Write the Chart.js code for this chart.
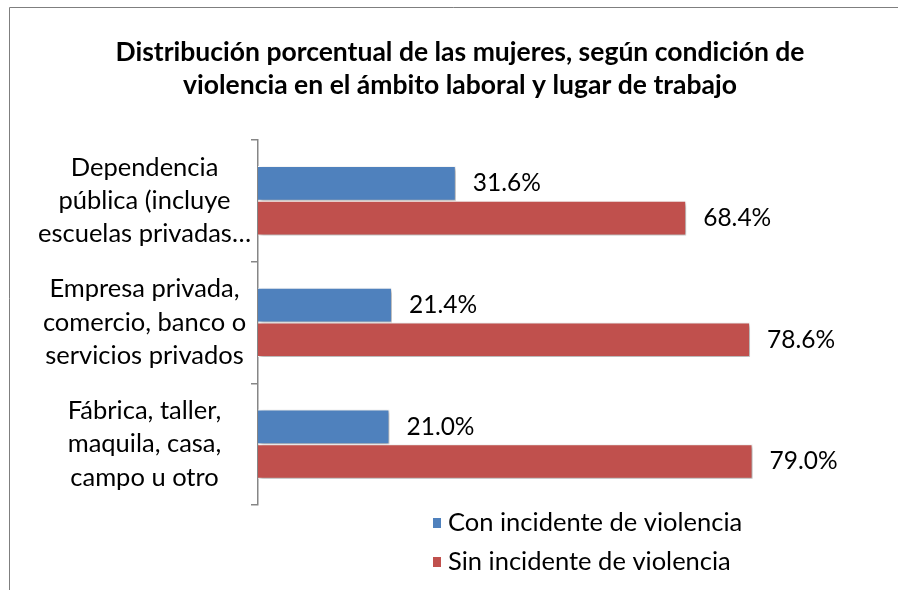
<!DOCTYPE html>
<html>
<head>
<meta charset="utf-8">
<script src="https://cdn.jsdelivr.net/npm/chart.js@4.4.1/dist/chart.umd.min.js"></script>
<style>
html,body{margin:0;padding:0;background:#fff;overflow:hidden}
canvas{display:block}
</style>
</head>
<body>
<canvas id="chart" width="898" height="590"></canvas>
<script>
// DATA
let categories = [
  ["Dependencia", "pública (incluye", "escuelas privadas…"],
  ["Empresa privada,", "comercio, banco o", "servicios privados"],
  ["Fábrica, taller,", "maquila, casa,", "campo u otro"]
];
let seriesNames = ["Con incidente de violencia", "Sin incidente de violencia"];
let conValues = [31.6, 21.4, 21.0];
let sinValues = [68.4, 78.6, 79.0];
let seriesColors = ["#4F81BD", "#C0504D"];

let titleLines = [
  "Distribución porcentual de las mujeres, según condición de",
  "violencia en el ámbito laboral y lugar de trabajo"
];

const FONT = "Lato";

// CHART FRAME (only top and left edges are inside the picture)
let frame = {
  id: "frame",
  beforeDraw(chart){
    let ctx = chart.ctx;
    ctx.save();
    ctx.strokeStyle = "#7f7f7f";
    ctx.lineWidth = 1;
    ctx.beginPath();
    ctx.moveTo(9.5, chart.height);
    ctx.lineTo(9.5, 7.5);
    ctx.lineTo(chart.width, 7.5);
    ctx.stroke();
    ctx.restore();
  }
};

// SHADOW UNDER BARS
let barShadow = {
  id: "barShadow",
  beforeDatasetsDraw(chart){
    let ctx = chart.ctx;
    ctx.save();
    ctx.shadowColor = "rgba(0,0,0,0.35)";
    ctx.shadowBlur = 4;
    ctx.shadowOffsetX = 2;
    ctx.shadowOffsetY = 2;
  },
  afterDatasetsDraw(chart){
    chart.ctx.restore();
  }
};

// VALUE LABELS
let valueLabels = {
  id: "valueLabels",
  afterDatasetsDraw(chart){
    let ctx = chart.ctx;
    ctx.save();
    ctx.font = "24.5px " + FONT;
    ctx.fillStyle = "#000";
    ctx.textBaseline = "middle";
    ctx.textAlign = "left";
    chart.data.datasets.forEach((ds, i) => {
      chart.getDatasetMeta(i).data.forEach((bar, j) => {
        ctx.fillText(ds.data[j].toFixed(1) + "%", bar.x + 17, bar.y);
      });
    });
    ctx.restore();
  }
};

// LEGEND (vertical, under the plot)
let sideLegend = {
  id: "sideLegend",
  afterDraw(chart){
    let ctx = chart.ctx;
    ctx.save();
    ctx.font = "25.5px " + FONT;
    ctx.textBaseline = "middle";
    ctx.textAlign = "left";
    chart.data.datasets.forEach((ds, i) => {
      let y = 523 + i * 39;
      ctx.fillStyle = ds.backgroundColor;
      ctx.fillRect(433, y - 5, 8, 10);
      ctx.fillStyle = "#000";
      ctx.fillText(ds.label, 448, y);
    });
    ctx.restore();
  }
};

new Chart(document.getElementById("chart"), {
  type: "bar",
  data: {
    labels: categories,
    datasets: [
      {label: seriesNames[0], data: conValues, backgroundColor: seriesColors[0]},
      {label: seriesNames[1], data: sinValues, backgroundColor: seriesColors[1]}
    ]
  },
  options: {
    indexAxis: "y",
    responsive: false,
    animation: false,
    layout: {padding: {left: 36, right: 14, top: 0, bottom: 85}},
    datasets: {
      bar: {
        barPercentage: 1,
        categoryPercentage: 0.57,
        borderColor: "#fff",
        borderWidth: 1
      }
    },
    scales: {
      x: {display: false, min: 0, max: 100},
      y: {
        offset: true,
        grid: {offset: true, drawOnChartArea: false, drawTicks: true, tickLength: 7, color: "#868686", lineWidth: 1.5},
        border: {display: true, color: "#868686", width: 1.5},
        ticks: {
          font: {family: FONT, size: 25.5, lineHeight: 1.3},
          color: "#000",
          crossAlign: "center",
          padding: 0
        },
        afterFit(scale){ scale.width = 222; }
      }
    },
    plugins: {
      legend: {display: false},
      tooltip: {enabled: false},
      title: {
        display: true,
        text: titleLines,
        color: "#000",
        font: {family: FONT, size: 26.5, weight: "bold", lineHeight: 1.28},
        padding: {top: 35, bottom: 37}
      }
    }
  },
  plugins: [frame, barShadow, valueLabels, sideLegend]
});
</script>
</body>
</html>
